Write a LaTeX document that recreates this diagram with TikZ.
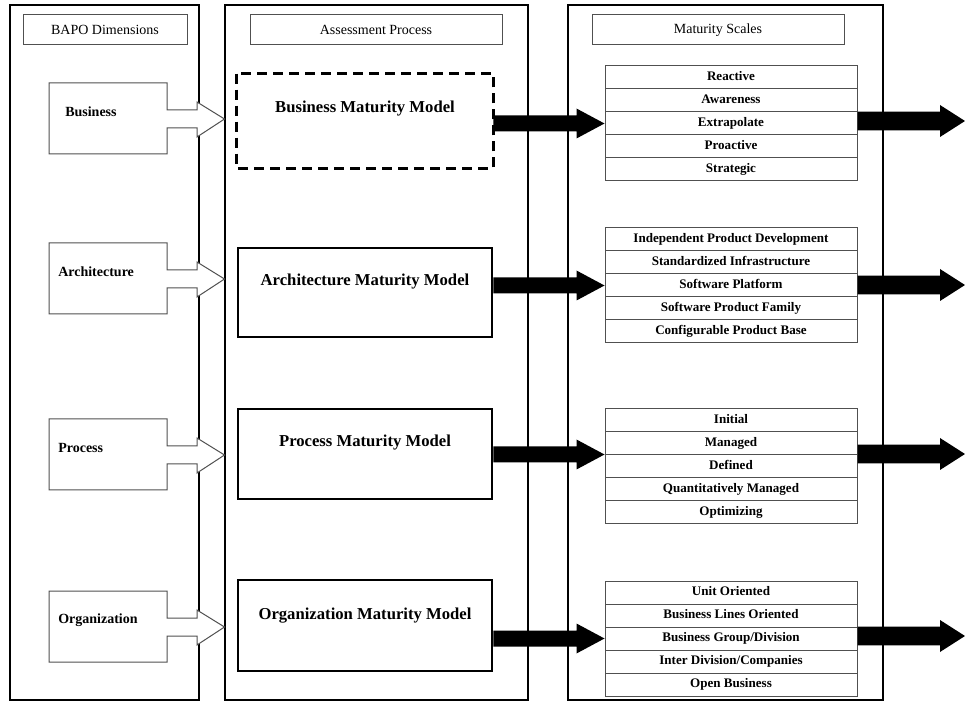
\documentclass[tikz,border=0pt]{standalone}
\usepackage{fontspec}
\setmainfont{Liberation Serif}
\usetikzlibrary{calc}
\definecolor{thin}{HTML}{505050}
\tikzset{
  panel/.style={draw=black, line width=1.9pt},
  hdr/.style={draw=thin, line width=0.75pt, minimum height=22.5pt, inner sep=0pt,
    font=\fontsize{10.5}{12}\selectfont},
  model/.style={draw=black, line width=1.9pt, fill=white, minimum width=190.5pt, inner sep=0pt},
  modeltitle/.style={font=\bfseries\fontsize{12.5}{14}\selectfont, inner sep=0pt},
  dimbox/.style={draw=thin, line width=0.75pt, fill=white},
  dimtext/.style={font=\bfseries\fontsize{10.5}{12}\selectfont, anchor=west, inner sep=0pt},
  cell/.style={draw=thin, line width=0.75pt, fill=white, minimum width=189pt, minimum height=17.25pt,
    inner sep=0pt, text height=7pt, text depth=2.2pt, font=\bfseries\fontsize{9.8}{11}\selectfont},
}
% input arrow: #1 start node anchor, #2 end anchor
\newcommand\inarrow[2]{%
  \fill[black] let \p1=(#1), \p2=(#2) in
    (\x1,{\y2+6pt}) -- ({\x2-21pt},{\y2+6pt}) -- ({\x2-21pt},{\y2+11.25pt}) -- (\x2,\y2)
    -- ({\x2-21pt},{\y2-11.25pt}) -- ({\x2-21pt},{\y2-6pt}) -- (\x1,{\y2-6pt}) -- cycle;}
\newcommand\outarrow[2]{%
  \fill[black] let \p1=(#1), \p2=(#2) in
    (\x1,{\y2+7pt}) -- ({\x2-18.75pt},{\y2+7pt}) -- ({\x2-18.75pt},{\y2+12pt}) -- (\x2,\y2)
    -- ({\x2-18.75pt},{\y2-12pt}) -- ({\x2-18.75pt},{\y2-7pt}) -- (\x1,{\y2-7pt}) -- cycle;}
% dimension shape with white arrow: #1 = top y
\newcommand\dimshape[1]{%
  \draw[dimbox] (49,#1) -- (167,#1) -- (167,{#1+27}) -- (197,{#1+27}) -- (197,{#1+19})
    -- (224.5,{#1+36}) -- (197,{#1+54}) -- (197,{#1+45}) -- (167,{#1+45}) -- (167,{#1+71})
    -- (49,{#1+71}) -- cycle;}
\begin{document}
\begin{tikzpicture}[x=0.75pt, y=-0.75pt]
\useasboundingbox (0,0) rectangle (965,702);
\fill[white] (0,0) rectangle (965,702);

% panels
\draw[panel] (10,5) rectangle (199,700);
\draw[panel] (225,5) rectangle (528,700);
\draw[panel] (568,5) rectangle (883,700);

% headers
\node[hdr, minimum width=123pt] (hbapo) at (105,30) {BAPO Dimensions};
\node[hdr, minimum width=189pt] (hass) at (376,30) {Assessment Process};
\node[hdr, minimum width=189pt] (hmat) at (718,30) {Maturity Scales};

% dimension shapes
\dimshape{83}
\dimshape{243}
\dimshape{419}
\dimshape{591}
\node[dimtext] (dbus) at (65,112) {Business};
\node[dimtext] (darch) at (58,272) {Architecture};
\node[dimtext] (dproc) at (58,448) {Process};
\node[dimtext] (dorg) at (58,620) {Organization};

% models
\node[model, draw=none, minimum height=69pt] (mbus) at (365,121) {};
\draw[line width=1.9pt, dash pattern=on 7.5pt off 4.5pt] (mbus.north west) rectangle (mbus.south east);
\node[model, minimum height=66.75pt] (march) at (365,292.5) {};
\node[model, minimum height=67.5pt] (mproc) at (365,454) {};
\node[model, minimum height=68.25pt] (morg) at (365,625.5) {};
\node[modeltitle] (tbus) at (365,109) {Business Maturity Model};
\node[modeltitle] (tarch) at (365,282) {Architecture Maturity Model};
\node[modeltitle] (tproc) at (365,443) {Process Maturity Model};
\node[modeltitle] (torg) at (365,616) {Organization Maturity Model};

% scales: business
\node[cell] (b1) at (731,77.5) {Reactive};
\node[cell] (b2) at (731,100.5) {Awareness};
\node[cell] (b3) at (731,123.5) {Extrapolate};
\node[cell] (b4) at (731,146.5) {Proactive};
\node[cell] (b5) at (731,169.5) {Strategic};
% architecture
\node[cell] (a1) at (731,239.5) {Independent Product Development};
\node[cell] (a2) at (731,262.5) {Standardized Infrastructure};
\node[cell] (a3) at (731,285.5) {Software Platform};
\node[cell] (a4) at (731,308.5) {Software Product Family};
\node[cell] (a5) at (731,331.5) {Configurable Product Base};
% process
\node[cell] (p1) at (731,420.5) {Initial};
\node[cell] (p2) at (731,443.5) {Managed};
\node[cell] (p3) at (731,466.5) {Defined};
\node[cell] (p4) at (731,489.5) {Quantitatively Managed};
\node[cell] (p5) at (731,512.5) {Optimizing};
% organization
\node[cell] (o1) at (731,592.5) {Unit Oriented};
\node[cell] (o2) at (731,615.5) {Business Lines Oriented};
\node[cell] (o3) at (731,638.5) {Business Group/Division};
\node[cell] (o4) at (731,661.5) {Inter Division/Companies};
\node[cell] (o5) at (731,684.5) {Open Business};

% input arrows
\inarrow{mbus.east}{b3.west}
\inarrow{march.east}{a3.west}
\inarrow{mproc.east}{p3.north west}
\inarrow{morg.east}{o3.west}

% output arrows
\coordinate (eb) at (965,121);
\coordinate (ea) at (965,285);
\coordinate (ep) at (965,454);
\coordinate (eo) at (965,636);
\outarrow{b3.east}{eb}
\outarrow{a3.east}{ea}
\outarrow{p3.east}{ep}
\outarrow{o3.east}{eo}
\end{tikzpicture}
\end{document}
